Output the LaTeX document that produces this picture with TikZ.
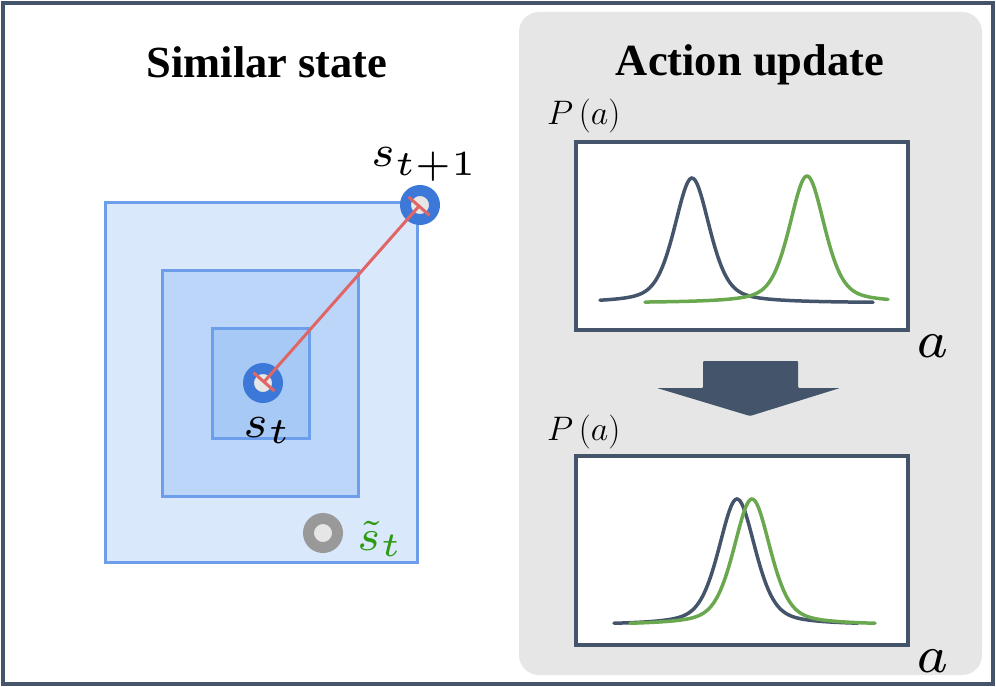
\RequirePackage{fix-cm}
\documentclass[tikz,border=0pt]{standalone}
\usepackage{fontspec}
\newfontfamily\headfont{Liberation Serif}
\usetikzlibrary{arrows.meta}
\DeclareMathSizes{7}{7}{5.6}{5}
\newcommand{\bigsym}[2]{\scalebox{#1}{\fontsize{7}{8}\selectfont$#2$}}
\definecolor{slate}{HTML}{44546A}
\definecolor{panelgray}{HTML}{E6E6E6}
\definecolor{ringblue}{HTML}{3C78D8}
\definecolor{boxedge}{HTML}{6D9EEB}
\definecolor{boxa}{HTML}{DAE8FC}
\definecolor{boxb}{HTML}{BCD6FA}
\definecolor{boxc}{HTML}{A6C9F6}
\definecolor{linered}{HTML}{E06666}
\definecolor{curvegreen}{HTML}{6AA84F}
\definecolor{labelgreen}{HTML}{2E9A12}
\tikzset{
  headtext/.style={font=\headfont\bfseries\fontsize{44.5}{48}\selectfont},
  symtext/.style={inner sep=0pt,anchor=base west},
  axistext/.style={inner sep=0pt,anchor=base west,font=\fontsize{34}{38}\selectfont},
  statept/.style={circle,inner sep=0pt,minimum size=29pt,line width=11pt,draw=ringblue,fill=panelgray},
  otherpt/.style={circle,inner sep=0pt,minimum size=29pt,line width=11pt,draw=gray!80,fill=panelgray},
  region/.style={draw=boxedge,line width=3pt},
  plotbox/.style={draw=slate,line width=3.5pt,fill=white},
  distcurve/.style={line width=3.5pt,line cap=round},
}
\begin{document}
\begin{tikzpicture}[x=1pt,y=-1pt]
\useasboundingbox (0,0) rectangle (996,687);
\draw[slate,line width=4pt,fill=white] (3,3) rectangle (993,684);
\fill[panelgray,rounded corners=20pt] (519,12) rectangle (982,675);

% left panel
\node[headtext] (lefthead) at (267,62) {Similar state};
\draw[region,fill=boxa] (105,203) rectangle (417,562);
\draw[region,fill=boxb] (162,270) rectangle (358,496);
\draw[region,fill=boxc] (212,328) rectangle (309,438);
\node[statept] (st) at (263,383) {};
\node[statept] (snext) at (420,205) {};
\node[otherpt] (sother) at (323,533) {};
\draw[linered,line width=3pt,{Bar[width=28pt]}-{Bar[width=28pt]}] (st.center) -- (snext.center);
\node[symtext] (stlab) at (243,437) {\bigsym{6.6}{s_t}};
\node[symtext] (snextlab) at (371,167) {\bigsym{6.3}{s_{t+1}}};
\node[symtext,text=labelgreen] (sotherlab) at (357,550) {\bigsym{6.2}{\tilde{s}_t}};

% right panel
\node[headtext] (righthead) at (750,65) {Action update};
\draw[plotbox] (576,142) rectangle (908,330);
\node[axistext] (pa1) at (547,125) {$P\,(a)$};
\node[symtext] (a1) at (916,357) {\bigsym{7.5}{a}};
\draw[distcurve,slate] plot[domain=600:873,samples=150]
  (\x,{303-125*(0.55*exp(-0.5*((\x-692)/17.8)^2)+0.45/(1+((\x-692)/21)^2))});
\draw[distcurve,curvegreen] plot[domain=645:888,samples=150]
  (\x,{303-127*(0.55*exp(-0.5*((\x-807)/17.8)^2)+0.45/(1+((\x-807)/21)^2))});

\fill[slate,rounded corners=1pt] (703,361) -- (798,361) -- (798,388) -- (840,388)
  -- (750,416) -- (657,388) -- (703,388) -- cycle;

\draw[plotbox] (576,456) rectangle (908,645);
\node[axistext] (pa2) at (547,440) {$P\,(a)$};
\node[symtext] (a2) at (916,672) {\bigsym{7.5}{a}};
\draw[distcurve,slate] plot[domain=614:858,samples=150]
  (\x,{625-126*(0.55*exp(-0.5*((\x-737)/18.5)^2)+0.45/(1+((\x-737)/22)^2))});
\draw[distcurve,curvegreen] plot[domain=630:875,samples=150]
  (\x,{625-126*(0.55*exp(-0.5*((\x-752)/18.5)^2)+0.45/(1+((\x-752)/22)^2))});
\end{tikzpicture}
\end{document}
